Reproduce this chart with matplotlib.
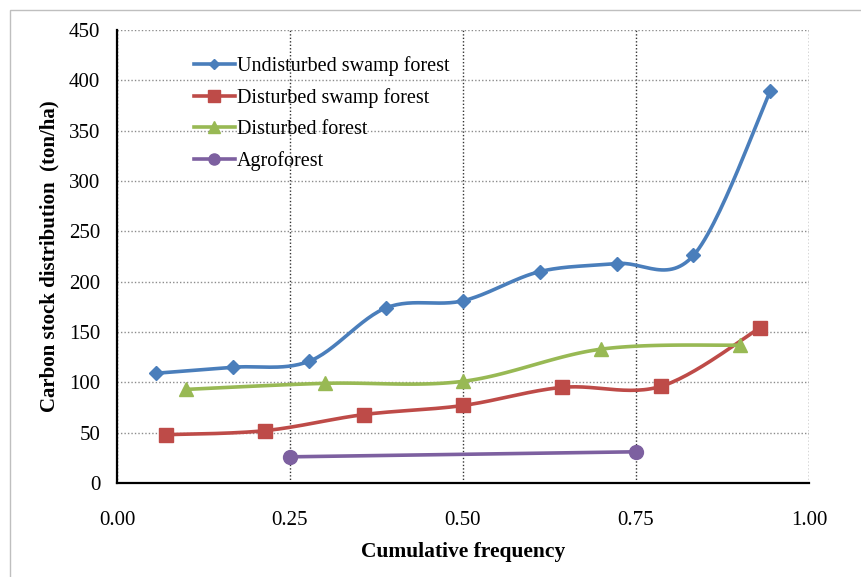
import numpy as np
import matplotlib.pyplot as plt
from matplotlib.patches import Rectangle

plt.rcParams['font.family'] = ['Liberation Serif', 'DejaVu Serif']

# data
undist_swamp_x = [0.056, 0.167, 0.278, 0.389, 0.500, 0.611, 0.722, 0.833, 0.944]
undist_swamp_y = [109, 115, 121, 174, 181, 210, 218, 226, 389]
dist_swamp_x = [0.071, 0.214, 0.357, 0.500, 0.643, 0.786, 0.929]
dist_swamp_y = [48, 52, 68, 77, 95, 96, 154]
dist_forest_x = [0.1, 0.3, 0.5, 0.7, 0.9]
dist_forest_y = [93, 99, 101, 133, 137]
agro_x = [0.25, 0.75]
agro_y = [26, 31]

labels = ['Undisturbed swamp forest', 'Disturbed swamp forest', 'Disturbed forest', 'Agroforest']
colors = ['#4A7EBB', '#BE4B48', '#98B954', '#7D60A0']
markers = ['D', 's', '^', 'o']
msizes = [7, 10, 10, 10]


def smooth(xs, ys, sx=692.0, sy=453.0 / 450.0, n=30):
    # Excel-style smoothing: cubic Bezier, control points from neighbours / 6
    p = np.column_stack([np.array(xs) * sx, np.array(ys) * sy])
    if len(p) < 3:
        return np.array(xs), np.array(ys)
    out = []
    t = np.linspace(0, 1, n)[:, None]
    for i in range(len(p) - 1):
        p0 = p[i - 1] if i > 0 else p[i]
        p3 = p[i + 2] if i + 2 < len(p) else p[i + 1]
        c1 = p[i] + (p[i + 1] - p0) / 6
        c2 = p[i + 1] - (p3 - p[i]) / 6
        seg = ((1 - t) ** 3 * p[i] + 3 * (1 - t) ** 2 * t * c1
               + 3 * (1 - t) * t ** 2 * c2 + t ** 3 * p[i + 1])
        out.append(seg if i == 0 else seg[1:])
    out = np.vstack(out)
    return out[:, 0] / sx, out[:, 1] / sy


fig = plt.figure(figsize=(8.62, 5.77), dpi=100)
fig.patches.append(Rectangle((10 / 862, -0.1), 1.2, 1.1 - 10 / 577, transform=fig.transFigure,
                             fill=False, edgecolor='#BFBFBF', linewidth=1))
ax = fig.add_axes([117 / 862, 1 - 483 / 577, 692 / 862, 453 / 577])

series = [(undist_swamp_x, undist_swamp_y), (dist_swamp_x, dist_swamp_y),
          (dist_forest_x, dist_forest_y), (agro_x, agro_y)]
for (xs, ys), lab, c, m, ms in zip(series, labels, colors, markers, msizes):
    sxs, sys_ = smooth(xs, ys)
    ax.plot(sxs, sys_, color=c, linewidth=2.6, solid_capstyle='round', zorder=3)
    ax.plot(xs, ys, linestyle='none', marker=m, markersize=ms, color=c, zorder=4)
    ax.plot([], [], color=c, linewidth=2.6, marker=m, markersize=ms * 0.8, label=lab)

ax.set_xlim(0, 1)
ax.set_ylim(0, 450)
ax.set_xticks([0, 0.25, 0.5, 0.75, 1.0])
ax.set_xticklabels(['0.00', '0.25', '0.50', '0.75', '1.00'])
ax.set_yticks(range(0, 451, 50))
ax.tick_params(axis='both', labelsize=15, length=0, pad=12)
ax.tick_params(axis='x', pad=20)

ax.yaxis.grid(True, color='#8C8C8C', linestyle=(0, (1, 1.5)), linewidth=1)
ax.xaxis.grid(True, color='#333333', linestyle=(0, (1, 1.5)), linewidth=1)
ax.set_axisbelow(True)
for s in ['top', 'right']:
    ax.spines[s].set_visible(False)
for s in ['left', 'bottom']:
    ax.spines[s].set_linewidth(1.6)
    ax.spines[s].set_color('black')

ax.set_xlabel('Cumulative frequency', fontsize=15.5, fontweight='bold', labelpad=9)
ax.set_ylabel('Carbon stock distribution  (ton/ha)', fontsize=15, fontweight='bold', labelpad=7)

ax.legend(loc='upper left', bbox_to_anchor=(0.10, 0.96), frameon=False, fontsize=14.5,
          handlelength=2.0, handletextpad=0.1, labelspacing=0.6, borderaxespad=0)

fig.savefig('out.png', dpi=100)
